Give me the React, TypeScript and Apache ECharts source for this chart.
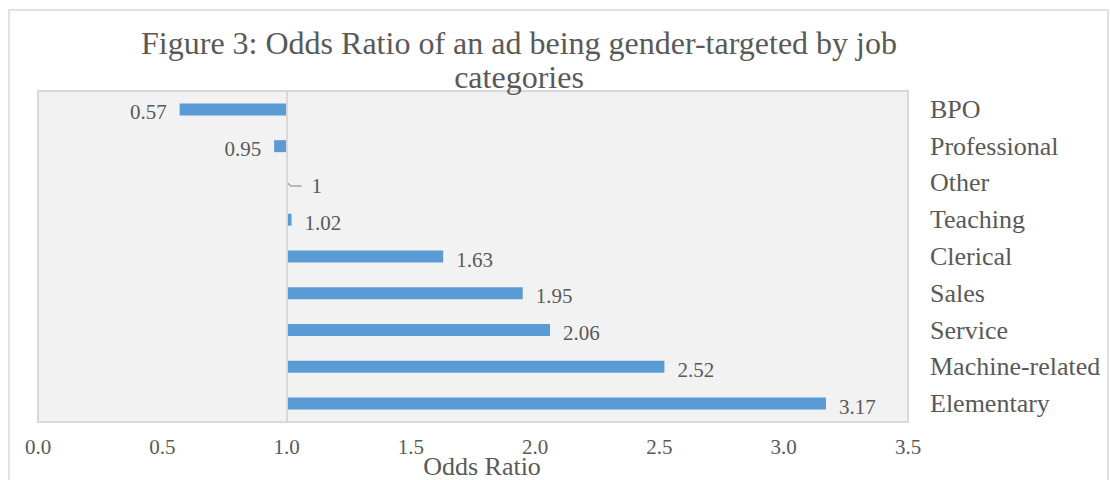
import React, { useEffect, useRef } from "react";
import * as echarts from "echarts";

const titleLines = ["Figure 3: Odds Ratio of an ad being gender-targeted by job", "categories"];
const categories = ["BPO", "Professional", "Other", "Teaching", "Clerical", "Sales", "Service", "Machine-related", "Elementary"];
const oddsRatios = [0.57, 0.95, 1, 1.02, 1.63, 1.95, 2.06, 2.52, 3.17];
const axisName = "Odds Ratio";
const baseline = 1;
const xMin = 0;
const xMax = 3.5;
const xStep = 0.5;

const FONT = '"Liberation Serif", "Times New Roman", serif';
const TEXT = "#595959";
const BAR = "#5B9BD5";
const LINE = "#D9D9D9";

export default function App() {
  const ref = useRef<HTMLDivElement>(null);
  useEffect(() => {
    if (!ref.current) return;
    const chart = echarts.init(ref.current, null, { renderer: "svg" });
    const barH = 12;
    const gap = 13;
    const option: any = {
      animation: false,
      backgroundColor: "#ffffff",
      graphic: [
        {
          type: "rect",
          shape: { x: 9, y: 10, width: 1099, height: 480 },
          style: { fill: "none", stroke: LINE, lineWidth: 1.5 },
          silent: true,
          z: -10,
        },
        {
          type: "text",
          x: 519,
          y: 60,
          style: {
            text: titleLines.join("\n"),
            font: `32px ${FONT}`,
            fontSize: 32,
            fontFamily: FONT,
            lineHeight: 34,
            fill: TEXT,
            textAlign: "center",
            textVerticalAlign: "middle",
            align: "center",
            verticalAlign: "middle",
          },
        },
      ],
      grid: {
        left: 38,
        right: 202,
        top: 91,
        bottom: 58,
        outerBoundsMode: "none",
        containLabel: false,
        show: true,
        backgroundColor: "#F2F2F2",
        borderColor: LINE,
        borderWidth: 2,
      },
      xAxis: {
        type: "value",
        min: xMin,
        max: xMax,
        interval: xStep,
        axisLine: { show: false },
        axisTick: { show: false },
        splitLine: { show: false },
        axisLabel: {
          formatter: (v: number) => v.toFixed(1),
          color: TEXT,
          fontSize: 21,
          fontFamily: FONT,
          lineHeight: 16,
          margin: 17,
        },
        name: axisName,
        nameLocation: "middle",
        nameGap: 34,
        nameMoveOverlap: false,
        nameTextStyle: { color: TEXT, fontSize: 26, fontFamily: FONT, lineHeight: 20, padding: [0, 0, 0, 18] },
      },
      yAxis: {
        type: "category",
        data: categories,
        inverse: true,
        position: "right",
        axisLine: { show: false },
        axisTick: { show: false },
        splitLine: { show: false },
        axisLabel: {
          color: TEXT,
          fontSize: 26,
          fontFamily: FONT,
          align: "left",
          margin: 22,
        },
      },
      series: [
        {
          type: "custom",
          data: oddsRatios.map((v, i) => [v, i]),
          encode: { x: 0, y: 1 },
          renderItem: (params: any, api: any) => {
            const v = api.value(0);
            const idx = api.value(1);
            const p0 = api.coord([baseline, idx]);
            const p1 = api.coord([v, idx]);
            const children: any[] = [];
            const w = Math.abs(p1[0] - p0[0]);
            const isZero = w < 1;
            if (!isZero) {
              children.push({
                type: "rect",
                shape: { x: Math.min(p0[0], p1[0]), y: p0[1] - barH / 2, width: w, height: barH },
                style: { fill: BAR },
              });
            } else {
              children.push({
                type: "polyline",
                shape: {
                  points: [
                    [p0[0] + 1, p0[1]],
                    [p0[0] + 4, p0[1] + 3],
                    [p0[0] + 15, p0[1] + 3],
                  ],
                },
                style: { stroke: "#A6A6A6", lineWidth: 1.5, fill: "none" },
              });
            }
            let x: number;
            let align: string;
            if (isZero) {
              x = p0[0] + 25;
              align = "left";
            } else if (v < baseline) {
              x = p1[0] - gap;
              align = "right";
            } else {
              x = p1[0] + gap;
              align = "left";
            }
            children.push({
              type: "text",
              style: {
                text: String(v),
                x,
                y: p0[1] + 3,
                fill: TEXT,
                font: `21px ${FONT}`,
                fontSize: 21,
                fontFamily: FONT,
                align,
                verticalAlign: "middle",
                textAlign: align,
                textVerticalAlign: "middle",
              },
            });
            return { type: "group", children };
          },
          markLine: {
            silent: true,
            symbol: "none",
            label: { show: false },
            lineStyle: { color: LINE, width: 2, type: "solid" },
            data: [{ xAxis: baseline }],
          },
        },
      ],
    };
    chart.setOption(option);
    return () => chart.dispose();
  }, []);
  return (
    <div
      ref={ref}
      style={{ position: "fixed", left: 0, top: 0, width: 1110, height: 480, background: "#fff" }}
    />
  );
}
